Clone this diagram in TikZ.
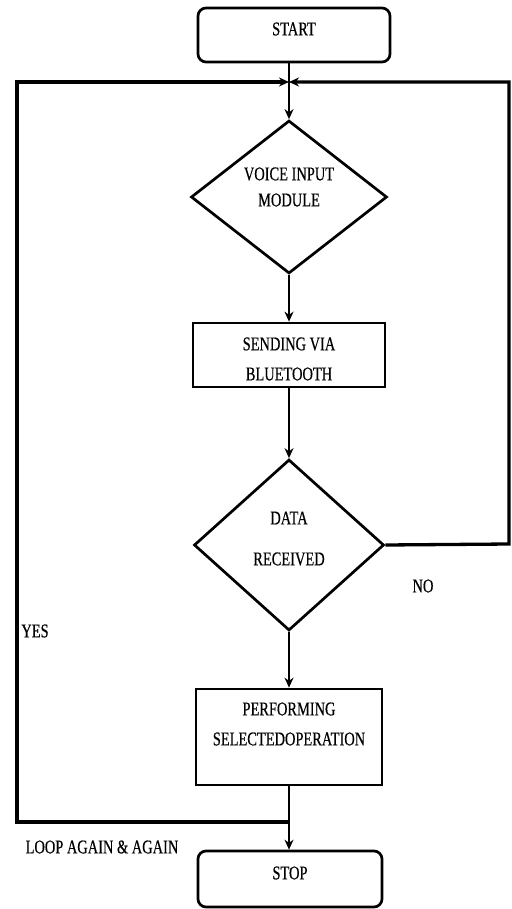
\documentclass[tikz,border=0pt]{standalone}
\usepackage{fontspec}
\setmainfont{Liberation Serif}[FakeStretch=0.74,FakeBold=0.4]
\usetikzlibrary{shapes.geometric,arrows.meta}
\begin{document}
\begin{tikzpicture}[x=1pt,y=-1pt,line width=2.7pt,
  >={Stealth[length=10pt,width=9pt]},
  flowbox/.style={draw,rectangle,inner sep=0pt},
  termbox/.style={draw,rectangle,rounded corners=8pt,inner sep=0pt},
  decbox/.style={draw,diamond,inner sep=0pt},
  loopline/.style={line width=3.3pt},
  lbl/.style={font=\fontsize{19.5}{22}\selectfont,inner sep=0pt}]
\useasboundingbox (0,0) rectangle (511,909);
% shapes
\node[termbox,minimum width=192pt,minimum height=54pt] (start) at (294,35) {};
\node[decbox,minimum width=196pt,minimum height=153pt] (d1) at (289,197) {};
\node[flowbox,minimum width=192pt,minimum height=64pt] (b2) at (289,355) {};
\node[decbox,minimum width=190pt,minimum height=171pt] (d2) at (289,545) {};
\node[flowbox,minimum width=186pt,minimum height=96pt] (b3) at (289,737) {};
\node[termbox,minimum width=184pt,minimum height=56pt] (stop) at (290,879) {};
% junctions
\coordinate (j1) at (289,82);
\coordinate (j2) at (289,822);
\coordinate (cl1) at (17,82);
\coordinate (cl2) at (17,822);
\coordinate (cr1) at (509,82);
\coordinate (cr2) at (509,544);
% texts
\node[lbl] (tstart) at (294,29) {START};
\node[lbl] (t1a) at (289,174) {VOICE INPUT};
\node[lbl] (t1b) at (289,200) {MODULE};
\node[lbl] (t2a) at (289,344) {SENDING VIA};
\node[lbl] (t2b) at (289,374) {BLUETOOTH};
\node[lbl] (t3a) at (289,518) {DATA};
\node[lbl] (t3b) at (289,559) {RECEIVED};
\node[lbl] (tno) at (423,586) {NO};
\node[lbl] (tyes) at (35,631) {YES};
\node[lbl] (t4a) at (289,709) {PERFORMING};
\node[lbl] (t4b) at (289,739) {SELECTEDOPERATION};
\node[lbl] (tstop) at (290,873) {STOP};
\node[lbl] (tloop) at (102,847) {LOOP AGAIN \& AGAIN};
% connectors
\draw[->] (start.south -| j1) -- (d1.north);
\draw[->] (d1.south) -- (b2.north);
\draw[->] (b2.south) -- (d2.north);
\draw[->] (d2.south) -- (b3.north);
\draw[->] (b3.south) -- (stop.north -| b3.south);
\draw[->,loopline] (d2.east) -- (cr2) -- (cr1) -- (j1);
\draw[->,loopline] (j2) -- (cl2) -- (cl1) -- (j1);
\end{tikzpicture}
\end{document}
